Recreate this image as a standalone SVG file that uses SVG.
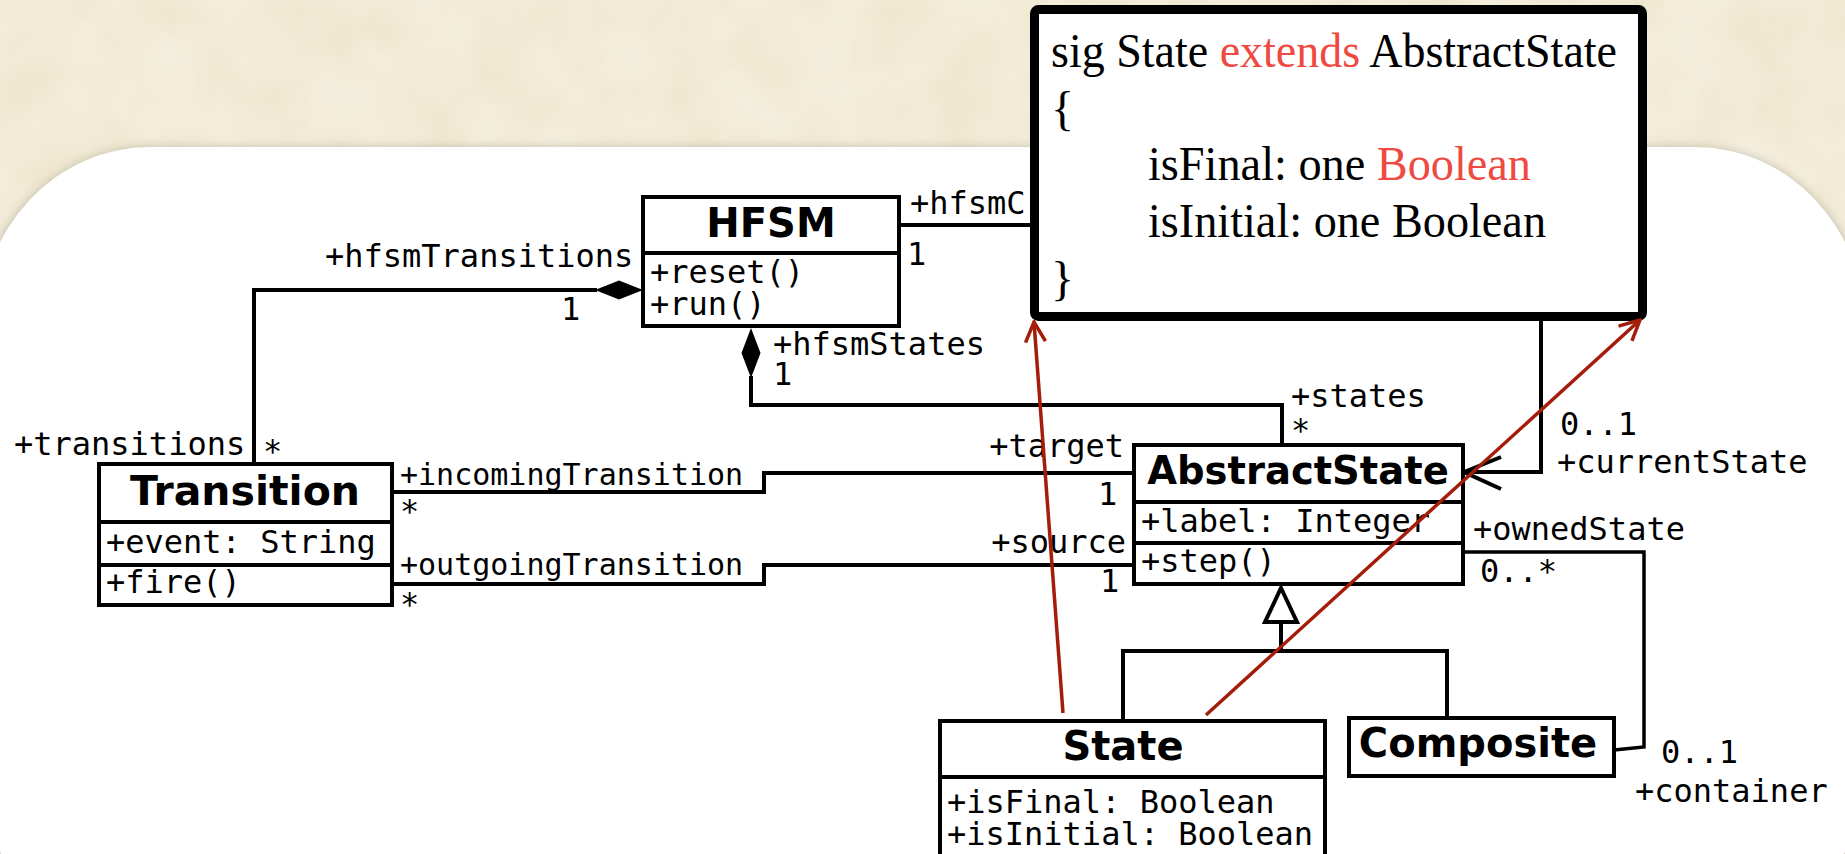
<svg xmlns="http://www.w3.org/2000/svg" width="1845" height="854" viewBox="0 0 1845 854">
<style>
.mono{font-family:"DejaVu Sans Mono",monospace;font-size:32px;fill:#000}
.mono30{font-family:"DejaVu Sans Mono",monospace;font-size:30px;fill:#000}
.cls{font-family:"DejaVu Sans",sans-serif;font-weight:bold;font-size:40px;text-anchor:middle;fill:#000}
.box{fill:#fff;stroke:#000;stroke-width:4}
.ln{fill:none;stroke:#000;stroke-width:4}
.red{fill:none;stroke:#a41d0b;stroke-width:3.5}
.alloy{font-family:"Liberation Serif",serif;font-size:48px;fill:#000}
.kw{fill:#ef4a42}
</style>
<defs>
<filter id="paper" x="0" y="0" width="100%" height="100%">
<feTurbulence type="fractalNoise" baseFrequency="0.015" numOctaves="4" seed="3" result="n"/>
<feColorMatrix in="n" type="matrix" values="0 0 0 0 0.93  0 0 0 0 0.90  0 0 0 0 0.80  0 0 0 -0.9 0.75" result="c"/>
<feComposite in="c" in2="SourceGraphic" operator="in"/>
</filter>
<filter id="shadow" x="-5%" y="-5%" width="110%" height="110%">
<feGaussianBlur stdDeviation="6"/>
</filter>
<marker id="redArrow" viewBox="0 0 12 12" refX="11" refY="6" markerWidth="24" markerHeight="24" markerUnits="userSpaceOnUse" orient="auto">
<path d="M1,1 L11,6 L1,11" fill="none" stroke="#a41d0b" stroke-width="1.75"/>
</marker>
</defs>

<rect x="0" y="0" width="1845" height="854" fill="#efe7cf"/>
<rect x="0" y="0" width="1845" height="854" fill="#efe7cf" filter="url(#paper)"/>

<rect x="-20" y="149" width="1885" height="800" rx="170" ry="180" fill="#000" opacity="0.25" filter="url(#shadow)"/>
<rect x="-20" y="147" width="1885" height="800" rx="170" ry="180" fill="#fff"/>

<g id="connectors">
<path class="ln" d="M254,464 V290 H597"/>
<polygon points="595,290 619,280.5 643,290 619,299.5" fill="#000"/>
<path class="ln" d="M751,376 V405 H1282 V445"/>
<polygon points="751,328 760.5,353 751,378 741.5,353" fill="#000"/>
<path class="ln" d="M899,225 H1032"/>
<path class="ln" d="M1541,318 V472 H1463"/>
<polyline class="ln" points="1501,457 1464,472 1501,489"/>
<path class="ln" d="M392,492 H764 V473 H1134"/>
<path class="ln" d="M392,584 H764 V565 H1134"/>
<path class="ln" d="M1463,552 H1644 V747 L1614,750" style="stroke-width:3.5"/>
<path class="ln" d="M1281,622 V651"/>
<path class="ln" d="M1123,721 V651 H1447 V718"/>
<polygon points="1281,588 1297,622 1265,622" fill="#fff" stroke="#000" stroke-width="4"/>
</g>

<g id="HFSM">
<rect class="box" x="643" y="197" width="256" height="129"/>
<line class="ln" x1="643" y1="253" x2="899" y2="253"/>
<text class="cls" x="771" y="237">HFSM</text>
<text class="mono" x="650" y="283">+reset()</text>
<text class="mono" x="650" y="315">+run()</text>
</g>

<g id="Transition">
<rect class="box" x="99" y="464" width="293" height="141"/>
<line class="ln" x1="99" y1="522" x2="392" y2="522"/>
<line class="ln" x1="99" y1="565" x2="392" y2="565"/>
<text class="cls" x="245" y="505" style="font-size:41px">Transition</text>
<text class="mono" x="106" y="553">+event: String</text>
<text class="mono" x="106" y="593">+fire()</text>
</g>

<g id="AbstractState">
<rect class="box" x="1134" y="445" width="329" height="139"/>
<line class="ln" x1="1134" y1="502" x2="1463" y2="502"/>
<line class="ln" x1="1134" y1="543" x2="1463" y2="543"/>
<text class="cls" x="1298" y="484" style="font-size:38.5px">AbstractState</text>
<text class="mono" x="1141" y="532">+label: Integer</text>
<text class="mono" x="1141" y="572">+step()</text>
</g>

<g id="State">
<rect class="box" x="940" y="721" width="385" height="150"/>
<line class="ln" x1="940" y1="777" x2="1325" y2="777"/>
<text class="cls" x="1123" y="760">State</text>
<text class="mono" x="947" y="813">+isFinal: Boolean</text>
<text class="mono" x="947" y="845">+isInitial: Boolean</text>
</g>

<g id="Composite">
<rect class="box" x="1349" y="718" width="265" height="58"/>
<text class="cls" x="1478" y="757">Composite</text>
</g>

<g id="labels">
<text class="mono" x="325" y="267">+hfsmTransitions</text>
<text class="mono" x="561" y="320">1</text>
<text class="mono" x="910" y="214">+hfsmC</text>
<text class="mono" x="907" y="265">1</text>
<text class="mono" x="773" y="355">+hfsmStates</text>
<text class="mono" x="773" y="385">1</text>
<text class="mono" x="1291" y="407">+states</text>
<text class="mono" x="1291" y="441">*</text>
<text class="mono" x="14" y="455">+transitions</text>
<text class="mono" x="263" y="462">*</text>
<text class="mono30" x="400" y="485">+incomingTransition</text>
<text class="mono" x="400" y="522">*</text>
<text class="mono30" x="400" y="575">+outgoingTransition</text>
<text class="mono" x="400" y="615">*</text>
<text class="mono" x="1124" y="457" text-anchor="end">+target</text>
<text class="mono" x="1098" y="505">1</text>
<text class="mono" x="1126" y="553" text-anchor="end">+source</text>
<text class="mono" x="1100" y="592">1</text>
<text class="mono" x="1560" y="435">0..1</text>
<text class="mono" x="1557" y="473">+currentState</text>
<text class="mono" x="1473" y="540">+ownedState</text>
<text class="mono" x="1480" y="582">0..*</text>
<text class="mono" x="1661" y="763">0..1</text>
<text class="mono" x="1635" y="802">+container</text>
</g>

<g id="AlloySig">
<rect x="1034.5" y="9.5" width="608" height="307" rx="4" fill="#fff" stroke="#000" stroke-width="9"/>
<text class="alloy" x="1051" y="67" textLength="566" lengthAdjust="spacingAndGlyphs">sig State <tspan class="kw">extends</tspan> AbstractState</text>
<text class="alloy" x="1051" y="125">{</text>
<text class="alloy" x="1148" y="180" textLength="383" lengthAdjust="spacingAndGlyphs">isFinal: one <tspan class="kw">Boolean</tspan></text>
<text class="alloy" x="1148" y="237" textLength="398" lengthAdjust="spacingAndGlyphs">isInitial: one Boolean</text>
<text class="alloy" x="1051" y="295">}</text>
</g>

<g id="alloy-links">
<path class="red" d="M1063,713 L1034,322" marker-end="url(#redArrow)"/>
<path class="red" d="M1206,715 L1640,320" marker-end="url(#redArrow)"/>
</g>
</svg>
